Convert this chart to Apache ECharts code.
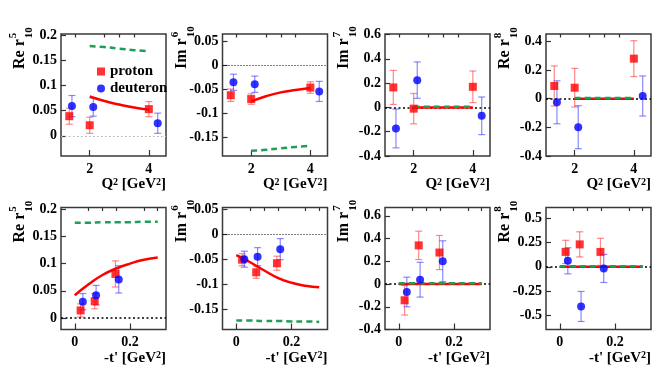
<!DOCTYPE html>
<html><head><meta charset="utf-8">
<script src="https://cdn.jsdelivr.net/npm/echarts@6/dist/echarts.min.js"></script>
<style>html,body{margin:0;padding:0;background:#fff}#c{width:664px;height:378px}</style>
</head><body><div id="c"></div>
<script>
// ---- x positions ----
const q2P = [1.31, 2.0, 4.0];
const q2D = [1.40, 2.12, 4.30];
const tP = [0.021, 0.072, 0.147];
const tD = [0.029, 0.077, 0.159];
const q2Curve = [2, 2.5, 3, 3.5, 4];
const tCurve = [0, 0.05, 0.1, 0.15, 0.2, 0.25, 0.3];

// ---- Re r5_10 vs Q2 ----
const re5Q2P = [0.039, 0.021, 0.053];
const re5Q2PErr = [0.016, 0.016, 0.015];
const re5Q2D = [0.059, 0.057, 0.025];
const re5Q2DErr = [0.021, 0.018, 0.020];
const re5Q2Fit = [0.078, 0.069, 0.062, 0.056, 0.052];
const re5Q2Model = [0.178, 0.176, 0.173, 0.170, 0.168];
// ---- Im r6_10 vs Q2 ----
const im6Q2P = [-0.062, -0.070, -0.046];
const im6Q2PErr = [0.013, 0.011, 0.012];
const im6Q2D = [-0.035, -0.039, -0.054];
const im6Q2DErr = [0.017, 0.017, 0.021];
const im6Q2Fit = [-0.075, -0.064, -0.056, -0.051, -0.047];
const im6Q2Model = [-0.178, -0.176, -0.173, -0.170, -0.168];
// ---- Im r7_10 vs Q2 ----
const im7Q2P = [0.165, -0.010, 0.170];
const im7Q2PErr = [0.140, 0.125, 0.130];
const im7Q2D = [-0.173, 0.225, -0.069];
const im7Q2DErr = [0.160, 0.150, 0.155];
const im7Q2Fit = [0, 0, 0, 0, 0];
const im7Q2Model = [0.006, 0.006, 0.006, 0.006, 0.006];
// ---- Re r8_10 vs Q2 ----
const re8Q2P = [0.089, 0.077, 0.280];
const re8Q2PErr = [0.140, 0.135, 0.125];
const re8Q2D = [-0.025, -0.199, 0.019];
const re8Q2DErr = [0.150, 0.150, 0.140];
const re8Q2Fit = [0, 0, 0, 0, 0];
const re8Q2Model = [0.005, 0.005, 0.005, 0.005, 0.005];
// ---- Re r5_10 vs -t' ----
const re5TP = [0.014, 0.031, 0.081];
const re5TPErr = [0.012, 0.014, 0.024];
const re5TD = [0.030, 0.042, 0.071];
const re5TDErr = [0.015, 0.018, 0.025];
const re5TFit = [0.042, 0.062, 0.079, 0.091, 0.100, 0.107, 0.111];
const re5TModel = [0.175, 0.175, 0.176, 0.176, 0.176, 0.177, 0.177];
// ---- Im r6_10 vs -t' ----
const im6TP = [-0.051, -0.076, -0.058];
const im6TPErr = [0.012, 0.012, 0.014];
const im6TD = [-0.050, -0.045, -0.030];
const im6TDErr = [0.016, 0.018, 0.021];
const im6TFit = [-0.042, -0.056, -0.072, -0.087, -0.097, -0.103, -0.106];
const im6TModel = [-0.172, -0.172, -0.173, -0.173, -0.174, -0.174, -0.175];
// ---- Im r7_10 vs -t' ----
const im7TP = [-0.143, 0.340, 0.277];
const im7TPErr = [0.130, 0.125, 0.150];
const im7TD = [-0.070, 0.038, 0.200];
const im7TDErr = [0.130, 0.153, 0.180];
const im7TFit = [0, 0, 0, 0, 0, 0, 0];
const im7TModel = [0.006, 0.006, 0.006, 0.006, 0.006, 0.006, 0.006];
// ---- Re r8_10 vs -t' ----
const re8TP = [0.154, 0.232, 0.154];
const re8TPErr = [0.120, 0.130, 0.140];
const re8TD = [0.062, -0.410, -0.017];
const re8TDErr = [0.135, 0.155, 0.145];
const re8TFit = [0, 0, 0, 0, 0, 0, 0];
const re8TModel = [0.005, 0.005, 0.005, 0.005, 0.005, 0.005, 0.005];

// ---- tick labels ----
const q2Ticks = [2, 4];
const q2Minor = [1.5, 2.5, 3, 3.5];
const tTicks = [0, 0.2];
const tMinor = [0.05, 0.1, 0.15, 0.25, 0.3];
const yTicksR5 = [0, 0.05, 0.1, 0.15, 0.2];
const yTicksI6 = [-0.15, -0.1, -0.05, 0, 0.05];
const yTicksI7 = [-0.4, -0.2, 0, 0.2, 0.4, 0.6];
const yTicksR8Q = [-0.4, -0.2, 0, 0.2, 0.4];
const yTicksR8T = [-0.5, -0.25, 0, 0.25, 0.5];

// ---- styling / layout ----
const FONT = '"Liberation Serif", "Times New Roman", serif';
const RED = '#ff0000', BLUE = '#0000ff', GREEN = '#1f9e55';
const lefts = [61, 222.5, 385, 546];
const tops = [34, 207.5];
const GW = 105, GH = 122;
const zeroGray = {color: '#b0b0b0', width: 1.2, type: [1.5, 2.5]};
const zeroThin = {color: '#000', width: 1, type: [1, 2]};
const zeroThick = {color: '#000', width: 1.6, type: [2, 2.5]};

const panels = [
  {row:0, col:0, xr:[1.03,4.58], yr:[-0.04,0.202], yt:yTicksR5, main:'Re r', sup:'5', px:q2P, p:re5Q2P, pe:re5Q2PErr, dx:q2D, d:re5Q2D, de:re5Q2DErr, cx:q2Curve, fit:re5Q2Fit, model:re5Q2Model, zero:zeroGray},
  {row:0, col:1, xr:[1.03,4.58], yr:[-0.189,0.066], yt:yTicksI6, main:'Im r', sup:'6', px:q2P, p:im6Q2P, pe:im6Q2PErr, dx:q2D, d:im6Q2D, de:im6Q2DErr, cx:q2Curve, fit:im6Q2Fit, model:im6Q2Model, zero:zeroThin},
  {row:0, col:2, xr:[1.03,4.58], yr:[-0.4,0.605], yt:yTicksI7, main:'Im r', sup:'7', px:q2P, p:im7Q2P, pe:im7Q2PErr, dx:q2D, d:im7Q2D, de:im7Q2DErr, cx:q2Curve, fit:im7Q2Fit, model:im7Q2Model, zero:zeroThick},
  {row:0, col:3, xr:[1.03,4.58], yr:[-0.4,0.452], yt:yTicksR8Q, main:'Re r', sup:'8', px:q2P, p:re8Q2P, pe:re8Q2PErr, dx:q2D, d:re8Q2D, de:re8Q2DErr, cx:q2Curve, fit:re8Q2Fit, model:re8Q2Model, zero:zeroThick},
  {row:1, col:0, xr:[-0.05,0.33], yr:[-0.021,0.203], yt:yTicksR5, main:'Re r', sup:'5', px:tP, p:re5TP, pe:re5TPErr, dx:tD, d:re5TD, de:re5TDErr, cx:tCurve, fit:re5TFit, model:re5TModel, zero:zeroThick},
  {row:1, col:1, xr:[-0.05,0.33], yr:[-0.19,0.053], yt:yTicksI6, main:'Im r', sup:'6', px:tP, p:im6TP, pe:im6TPErr, dx:tD, d:im6TD, de:im6TDErr, cx:tCurve, fit:im6TFit, model:im6TModel, zero:zeroThin},
  {row:1, col:2, xr:[-0.05,0.33], yr:[-0.4,0.673], yt:yTicksI7, main:'Im r', sup:'7', px:tP, p:im7TP, pe:im7TPErr, dx:tD, d:im7TD, de:im7TDErr, cx:tCurve, fit:im7TFit, model:im7TModel, zero:zeroThick},
  {row:1, col:3, xr:[-0.05,0.33], yr:[-0.648,0.613], yt:yTicksR8T, main:'Re r', sup:'8', px:tP, p:re8TP, pe:re8TPErr, dx:tD, d:re8TD, de:re8TDErr, cx:tCurve, fit:re8TFit, model:re8TModel, zero:zeroThick}
];

const zip = (...a) => a[0].map((_, i) => a.map(arr => arr[i]));
const ctx = document.createElement('canvas').getContext('2d');
function tw(text, font) { ctx.font = font; return ctx.measureText(text).width; }

function errRender(color) {
  return function (params, api) {
    const x = api.value(0), y = api.value(1), e = api.value(2);
    const a = api.coord([x, y + e]), b = api.coord([x, y - e]);
    const w = 3.5, st = {stroke: color, lineWidth: 1.2};
    return {type: 'group', children: [
      {type: 'line', shape: {x1: a[0], y1: a[1], x2: b[0], y2: b[1]}, style: st},
      {type: 'line', shape: {x1: a[0] - w, y1: a[1], x2: a[0] + w, y2: a[1]}, style: st},
      {type: 'line', shape: {x1: b[0] - w, y1: b[1], x2: b[0] + w, y2: b[1]}, style: st}
    ]};
  };
}

const grid = [], xAxis = [], yAxis = [], series = [], graphic = [];
const labelStyle = {fontFamily: FONT, fontWeight: 'bold', fontSize: 14, color: '#000'};
const tickLine = {color: '#333', width: 1.2};

panels.forEach((pn, i) => {
  const left = lefts[pn.col], top = tops[pn.row];
  grid.push({left: left, top: top, width: GW, height: GH, show: true, borderColor: '#3a3a3a', borderWidth: 1.5, backgroundColor: '#fff'});
  const isQ = pn.row === 0;
  xAxis.push({
    gridIndex: i, type: 'value', min: pn.xr[0], max: pn.xr[1],
    axisLine: {show: false, onZero: false}, splitLine: {show: false},
    axisTick: {inside: true, length: 6, customValues: isQ ? q2Ticks : tTicks, lineStyle: tickLine},
    axisLabel: Object.assign({customValues: isQ ? q2Ticks : tTicks, margin: 6}, labelStyle),
    name: isQ ? 'Q{s|2} [GeV{s|2}]' : "-t' [GeV{s|2}]",
    nameLocation: 'end', nameGap: 0,
    nameTextStyle: {fontFamily: FONT, fontWeight: 'bold', fontSize: 15, color: '#000', align: 'right', verticalAlign: 'top', padding: [21, 0, 0, 0],
      rich: {s: {fontFamily: FONT, fontWeight: 'bold', fontSize: 10, color: '#000', verticalAlign: 'top'}}}
  });
  xAxis.push({
    gridIndex: i, type: 'value', min: pn.xr[0], max: pn.xr[1],
    axisLine: {show: false, onZero: false}, splitLine: {show: false}, axisLabel: {show: false},
    axisTick: {inside: true, length: 3.5, customValues: isQ ? q2Minor : tMinor, lineStyle: tickLine}
  });
  yAxis.push({
    gridIndex: i, type: 'value', min: pn.yr[0], max: pn.yr[1],
    axisLine: {show: false, onZero: false}, splitLine: {show: false},
    axisTick: {inside: true, length: 5, customValues: pn.yt, lineStyle: tickLine},
    axisLabel: Object.assign({customValues: pn.yt, margin: 4}, labelStyle)
  });
  const xi = 2 * i, yi = i;
  series.push({type: 'custom', name: 'proton err', xAxisIndex: xi, yAxisIndex: yi, data: zip(pn.px, pn.p, pn.pe), encode: {x: 0, y: 1}, renderItem: errRender('rgba(255,40,40,0.55)'), z: 2, silent: true});
  series.push({type: 'custom', name: 'deuteron err', xAxisIndex: xi, yAxisIndex: yi, data: zip(pn.dx, pn.d, pn.de), encode: {x: 0, y: 1}, renderItem: errRender('rgba(40,40,255,0.55)'), z: 2, silent: true});
  series.push({type: 'line', name: 'fit', xAxisIndex: xi, yAxisIndex: yi, data: zip(pn.cx, pn.fit), smooth: true, showSymbol: false, lineStyle: {color: RED, width: 2.5}, z: 3, silent: true});
  series.push({type: 'line', name: 'model', xAxisIndex: xi, yAxisIndex: yi, data: zip(pn.cx, pn.model), smooth: true, showSymbol: false, lineStyle: {color: GREEN, width: 2.5, type: [6, 4]}, z: 4, silent: true,
    markLine: {silent: true, symbol: ['none', 'none'], label: {show: false}, lineStyle: pn.zero, data: [{yAxis: 0}], z: 1}});
  series.push({type: 'scatter', name: 'proton', xAxisIndex: xi, yAxisIndex: yi, data: zip(pn.px, pn.p), symbol: 'rect', symbolSize: 8, itemStyle: {color: RED}, z: 6});
  series.push({type: 'scatter', name: 'deuteron', xAxisIndex: xi, yAxisIndex: yi, data: zip(pn.dx, pn.d), symbol: 'circle', symbolSize: 8, itemStyle: {color: BLUE}, z: 6});

  const mf = 'bold 16px ' + FONT, sf = 'bold 11px ' + FONT;
  const w = tw(pn.main, mf);
  graphic.push({type: 'group', x: left - 33, y: top + 35, rotation: Math.PI / 2, children: [
    {type: 'text', x: 0, y: 0, style: {text: pn.main, font: mf, fill: '#000', textAlign: 'left', textVerticalAlign: 'bottom'}},
    {type: 'text', x: w + 1, y: -9, style: {text: pn.sup, font: sf, fill: '#000', textAlign: 'left', textVerticalAlign: 'bottom'}},
    {type: 'text', x: w + 1, y: -4, style: {text: '10', font: sf, fill: '#000', textAlign: 'left', textVerticalAlign: 'top'}}
  ]});
});

const chart = echarts.init(document.getElementById('c'), null, {renderer: 'canvas'});
chart.setOption({
  animation: false,
  backgroundColor: '#fff',
  grid, xAxis, yAxis, series, graphic,
  legend: {
    data: [{name: 'proton', icon: 'rect'}, {name: 'deuteron', icon: 'circle'}],
    orient: 'vertical', left: 92, top: 59, itemWidth: 8, itemHeight: 8, itemGap: 2, selectedMode: false,
    textStyle: {fontFamily: FONT, fontWeight: 'bold', fontSize: 15, color: '#000'}
  }
});
</script>
</body></html>
